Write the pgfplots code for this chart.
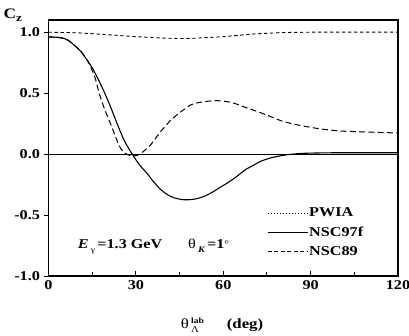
\documentclass[border=0pt]{standalone}
\usepackage{fontspec}
\setmainfont{Liberation Serif}[FakeStretch=1.2]
\usepackage{pgfplots}
\pgfplotsset{compat=1.18}
\begin{document}
\begin{tikzpicture}
\useasboundingbox (0,0) rectangle (409pt,336pt);
\begin{axis}[
  at={(48.5pt,60pt)}, anchor=south west,
  scale only axis, width=349.5pt, height=256pt,
  xmin=0, xmax=120, ymin=-1, ymax=1.1,
  xtick={0,30,60,90,120}, minor xtick={15,45,75,105},
  xticklabels={0,30,60,90,120},
  ytick={-1,-0.5,0,0.5,1},
  yticklabels={-1.0,-0.5,0.0,0.5,1.0},
  xtick pos=bottom, ytick pos=left,
  xtick align=inside, ytick align=outside,
  major tick length=4.5pt, minor tick length=4pt,
  every tick/.style={black, line width=0.9pt},
  axis line style={line width=1.1pt},
  tick label style={font=\fontsize{13.5}{15}\selectfont\bfseries},
  xticklabel style={yshift=-0.5pt},
  yticklabel style={xshift=-0.5pt},
  clip=true,
  legend style={at={(rel axis cs:0.625,0.27)}, anchor=north west, draw=none, fill=none,
    font=\fontsize{13.5}{15.5}\selectfont\bfseries, row sep=6.5pt, inner sep=0pt,
    nodes={inner sep=1pt}},
  legend cell align=left,
  legend image code/.code={\draw[#1] (0pt,0pt) -- (40pt,0pt);},
]
\addplot[black, line width=0.6pt, forget plot] coordinates {(0,0) (120,0)};
% PWIA
\addplot[black, line width=0.9pt, dash pattern=on 3.3pt off 2.7pt, forget plot] coordinates {
(0,1.0) (10,0.995) (20,0.98) (30,0.963) (40,0.951) (45,0.948) (50,0.95) (60,0.963) (70,0.985) (80,0.997) (90,1.0) (120,1.0)};
% NSC97f
\addplot[black, line width=1.1pt, smooth, forget plot] coordinates {
(0,0.961) (3,0.958) (5.5,0.948) (7,0.93) (9,0.89) (11,0.845) (12.4,0.80) (14.7,0.72) (17,0.617) (19.3,0.500) (21.6,0.37) (23.8,0.235) (26.1,0.107) (28.6,0.005) (31.3,-0.09) (33.9,-0.16) (36,-0.225) (38.5,-0.29) (41,-0.335) (43.1,-0.358) (45.5,-0.372) (47.6,-0.375) (50,-0.37) (52.2,-0.357) (54.5,-0.335) (56.8,-0.305) (59,-0.272) (61.4,-0.237) (64,-0.195) (66,-0.158) (68,-0.122) (70.5,-0.09) (72.8,-0.06) (76,-0.033) (79.7,-0.014) (83,-0.002) (86.6,0.005) (90,0.008) (95,0.01) (100,0.011) (110,0.011) (120,0.011)};
% NSC89
\addplot[black, line width=1.0pt, dash pattern=on 6pt off 3.3pt, smooth, forget plot] coordinates {
(0,0.961) (3,0.958) (5.5,0.948) (7,0.93) (9,0.89) (11,0.845) (12.4,0.80) (14,0.74) (16,0.625) (17.4,0.5) (19.4,0.36) (21.7,0.225) (23.6,0.107) (24.7,0.05) (26.1,0.01) (27.5,-0.008) (29,-0.015) (30.5,-0.01) (32,0.01) (33.5,0.04) (34.7,0.066) (36.5,0.12) (38.2,0.176) (40,0.225) (41.6,0.27) (43.3,0.305) (45,0.34) (46.8,0.37) (48.5,0.40) (50.2,0.415) (51.9,0.424) (54.5,0.433) (57.6,0.438) (60,0.435) (62.2,0.426) (64,0.415) (66,0.398) (68,0.38) (71,0.355) (72.8,0.34) (76,0.31) (79.7,0.275) (83,0.253) (86.6,0.234) (90,0.22) (93.5,0.206) (100,0.19) (107,0.183) (113,0.178) (120,0.173)};
\addlegendimage{black, line width=0.8pt, dash pattern=on 1pt off 2pt}
\addlegendentry{PWIA}
\addlegendimage{black, line width=1.1pt}
\addlegendentry{NSC97f}
\addlegendimage{black, line width=1.0pt, dash pattern=on 4pt off 2.5pt}
\addlegendentry{NSC89}
\node[anchor=west, inner sep=0pt, font=\fontsize{13.5}{15}\selectfont] at (axis cs:10,-0.76)
 {\textbf{\textit{E}}\,\raisebox{-0.7ex}{\fontsize{8}{8}\selectfont γ}\,\textbf{=1.3 GeV}\hspace{1.9em}θ\,\raisebox{-0.7ex}{\fontsize{8.5}{8.5}\selectfont\bfseries\itshape K}\,\textbf{=1}\raisebox{0.2ex}{\fontsize{10}{10}\selectfont °}};
\end{axis}
\node[anchor=west, font=\fontsize{14.5}{17}\selectfont\bfseries] at (0pt,321pt) {C\raisebox{-0.4ex}{\fontsize{11}{11}\selectfont z}};
\node[font=\fontsize{14}{16}\selectfont] at (222pt,11pt)
 {θ\,$^{\hbox{\fontsize{8}{8}\selectfont\bfseries lab}}_{\hbox{\fontsize{9}{9}\selectfont Λ}}$\hspace{1.6em}\textbf{(deg)}};
\end{tikzpicture}
\end{document}
